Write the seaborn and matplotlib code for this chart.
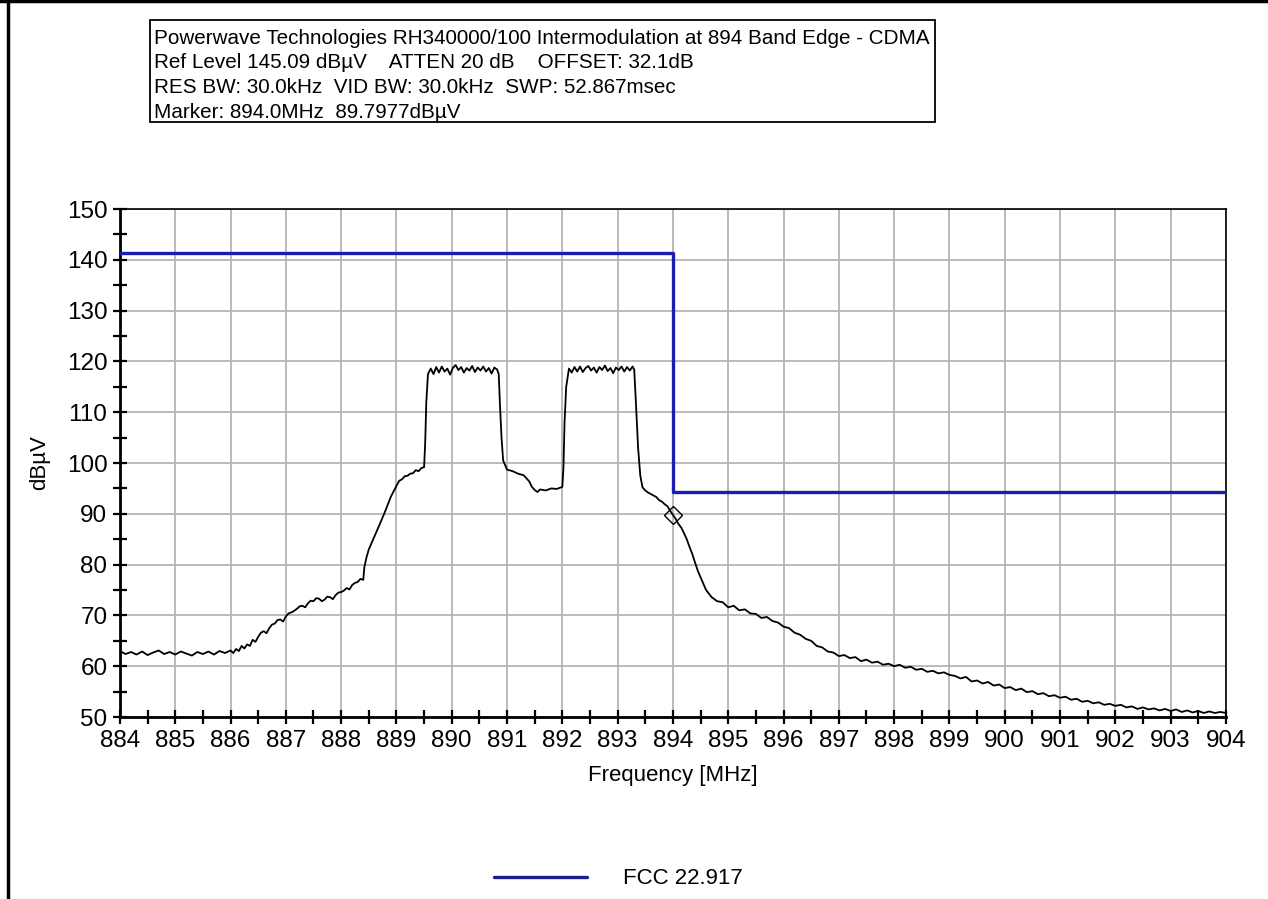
import matplotlib
matplotlib.use("Agg")
import matplotlib.pyplot as plt
import seaborn as sns
import pandas as pd
from matplotlib.lines import Line2D
from matplotlib.patches import Rectangle

# header text
header_lines = [
    "Powerwave Technologies RH340000/100 Intermodulation at 894 Band Edge - CDMA",
    "Ref Level 145.09 dB\u00b5V    ATTEN 20 dB    OFFSET: 32.1dB",
    "RES BW: 30.0kHz  VID BW: 30.0kHz  SWP: 52.867msec",
    "Marker: 894.0MHz  89.7977dB\u00b5V",
]

trace_freq = [
    884.0, 884.1, 884.2, 884.3, 884.4, 884.5, 884.6, 884.7, 884.8, 884.9,
    885.0, 885.1, 885.2, 885.3, 885.4, 885.5, 885.6, 885.7, 885.8, 885.9,
    886.0, 886.05, 886.1, 886.15, 886.2, 886.25, 886.3, 886.35, 886.4, 886.45,
    886.5, 886.55, 886.6, 886.65, 886.7, 886.75, 886.8, 886.85, 886.9, 886.95,
    887.0, 887.05, 887.1, 887.15, 887.2, 887.25, 887.3, 887.35, 887.4, 887.45,
    887.5, 887.55, 887.6, 887.65, 887.7, 887.75, 887.8, 887.85, 887.9, 887.95,
    888.0, 888.05, 888.1, 888.15, 888.2, 888.25, 888.3, 888.35, 888.4, 888.42,
    888.46, 888.5, 888.6, 888.7, 888.8, 888.9, 889.0, 889.05, 889.1, 889.15,
    889.2, 889.25, 889.3, 889.35, 889.4, 889.45, 889.5, 889.52, 889.54, 889.57,
    889.62, 889.67, 889.72, 889.77, 889.82, 889.87, 889.92, 889.97, 890.02, 890.07,
    890.12, 890.17, 890.22, 890.27, 890.32, 890.37, 890.42, 890.47, 890.52, 890.57,
    890.62, 890.67, 890.72, 890.77, 890.82, 890.85, 890.87, 890.9, 890.93, 891.0,
    891.1, 891.2, 891.3, 891.35, 891.4, 891.45, 891.5, 891.55, 891.6, 891.7,
    891.8, 891.9, 892.0, 892.02, 892.04, 892.07, 892.12, 892.17, 892.22, 892.27,
    892.32, 892.37, 892.42, 892.47, 892.52, 892.57, 892.62, 892.67, 892.72, 892.77,
    892.82, 892.87, 892.92, 892.97, 893.02, 893.07, 893.12, 893.17, 893.22, 893.27,
    893.3, 893.33, 893.37, 893.41, 893.45, 893.5, 893.55, 893.6, 893.65, 893.7,
    893.75, 893.8, 893.85, 893.9, 893.95, 894.0, 894.05, 894.1, 894.15, 894.2,
    894.25, 894.3, 894.35, 894.4, 894.45, 894.5, 894.6, 894.7, 894.8, 894.9,
    895.0, 895.1, 895.2, 895.3, 895.4, 895.5, 895.6, 895.7, 895.8, 895.9,
    896.0, 896.1, 896.2, 896.3, 896.4, 896.5, 896.6, 896.7, 896.8, 896.9,
    897.0, 897.1, 897.2, 897.3, 897.4, 897.5, 897.6, 897.7, 897.8, 897.9,
    898.0, 898.1, 898.2, 898.3, 898.4, 898.5, 898.6, 898.7, 898.8, 898.9,
    899.0, 899.1, 899.2, 899.3, 899.4, 899.5, 899.6, 899.7, 899.8, 899.9,
    900.0, 900.1, 900.2, 900.3, 900.4, 900.5, 900.6, 900.7, 900.8, 900.9,
    901.0, 901.1, 901.2, 901.3, 901.4, 901.5, 901.6, 901.7, 901.8, 901.9,
    902.0, 902.1, 902.2, 902.3, 902.4, 902.5, 902.6, 902.7, 902.8, 902.9,
    903.0, 903.1, 903.2, 903.3, 903.4, 903.5, 903.6, 903.7, 903.8, 903.9,
    904.0,
]
trace_level = [
    63.0, 62.4, 62.8, 62.3, 62.9, 62.2, 62.7, 63.1, 62.4, 62.8,
    62.3, 62.9, 62.5, 62.1, 62.8, 62.4, 62.9, 62.3, 63.0, 62.6,
    63.1, 62.6, 63.4, 63.0, 64.0, 63.5, 64.3, 64.0, 65.2, 64.8,
    65.8, 66.6, 66.9, 66.5, 67.5, 68.2, 68.4, 69.1, 69.2, 68.8,
    69.8, 70.4, 70.6, 70.9, 71.3, 71.8, 71.9, 71.6, 72.4, 72.9,
    72.8, 73.4, 73.3, 72.8, 73.1, 73.7, 73.6, 73.2, 74.0, 74.5,
    74.6, 74.9, 75.4, 75.1, 76.0, 76.4, 76.6, 77.2, 77.0, 79.5,
    81.5, 83.0, 85.5, 88.0, 90.6, 93.4, 95.5, 96.5, 96.8, 97.4,
    97.5, 97.9, 98.0, 98.6, 98.4, 99.0, 99.2, 104.0, 112.0, 117.5,
    118.6, 117.5, 118.9, 117.8, 119.0, 118.0, 118.6, 117.4, 118.7, 119.3,
    118.3, 118.9, 117.8, 118.7, 118.2, 119.1, 117.9, 118.8, 118.2, 119.0,
    118.0, 118.7, 117.6, 118.8, 118.4, 117.5, 112.0, 105.0, 100.5, 98.7,
    98.4, 97.9, 97.6, 97.0, 96.4, 95.3, 94.7, 94.3, 94.8, 94.6,
    95.0, 94.9, 95.3, 99.0, 108.0, 115.0, 118.6, 117.8, 118.9, 118.0,
    119.0, 117.9, 118.7, 119.1, 118.2, 118.8, 117.8, 118.9, 118.3, 119.2,
    118.1, 118.7, 117.7, 118.8, 118.3, 119.0, 118.0, 118.9, 118.2, 119.0,
    118.4, 112.0, 103.0, 97.5, 95.2, 94.6, 94.2, 93.9, 93.6, 93.3,
    92.7, 92.4, 91.9, 91.5, 90.6, 89.8, 89.0, 88.0, 87.3, 86.2,
    85.0, 83.5, 82.1, 80.4, 78.8, 77.5, 75.0, 73.6, 72.8, 72.6,
    71.6, 71.9, 71.0, 71.2, 70.4, 70.3, 69.5, 69.7, 68.9, 68.6,
    67.8, 67.5, 66.6, 66.2, 65.4, 65.0, 64.0, 63.7, 62.9, 62.7,
    62.0, 62.2, 61.6, 61.8, 61.0, 61.3, 60.7, 60.9, 60.3, 60.5,
    60.0, 60.3, 59.7, 59.9, 59.3, 59.5, 58.9, 59.1, 58.6, 58.8,
    58.3, 58.1, 57.6, 57.9, 57.0, 57.2, 56.6, 56.9, 56.2, 56.4,
    55.7, 55.9, 55.3, 55.6, 54.9, 55.1, 54.5, 54.7, 54.1, 54.3,
    53.8, 54.0, 53.4, 53.6, 53.0, 53.2, 52.7, 52.9, 52.4, 52.6,
    52.2, 52.4, 51.9, 52.1, 51.6, 51.9, 51.5, 51.7, 51.3, 51.6,
    51.2, 51.5, 51.0, 51.3, 50.9, 51.2, 50.8, 51.1, 50.8, 51.0,
    50.8,
]
assert len(trace_freq) == len(trace_level)

# FCC 22.917 limit (step)
limit_freq = [884.0, 894.0, 904.0]
limit_level = [141.4, 94.3, 94.3]
limit_label = "FCC 22.917"

marker_freq = [894.0]
marker_level = [89.8]

x_ticks = list(range(884, 905))
y_ticks = list(range(50, 151, 10))

sns.set_style("white")
plt.rcParams["font.family"] = ["Liberation Sans", "DejaVu Sans"]
plt.rcParams["text.color"] = "black"
plt.rcParams["axes.labelcolor"] = "black"

fig = plt.figure(figsize=(12.68, 8.99), dpi=100)
ax = fig.add_axes([0.0946, 0.2024, 0.8722, 0.5651])

trace_df = pd.DataFrame({"freq": trace_freq, "level": trace_level})
limit_df = pd.DataFrame({"freq": limit_freq, "level": limit_level})

sns.lineplot(data=trace_df, x="freq", y="level", ax=ax, color="black",
             linewidth=1.3, estimator=None, sort=False, zorder=3)
sns.lineplot(data=limit_df, x="freq", y="level", ax=ax, color="#1c1cb0",
             linewidth=2.4, estimator=None, sort=False, drawstyle="steps-post",
             zorder=4)
ax.plot(marker_freq, marker_level, marker="D", markersize=9,
        markerfacecolor="none", markeredgecolor="black", markeredgewidth=1.0,
        linestyle="none", zorder=5)

ax.set_xlim(884, 904)
ax.set_ylim(50, 150)
ax.set_xticks(x_ticks)
ax.set_yticks(y_ticks)
ax.set_xticks([x + 0.5 for x in x_ticks[:-1]], minor=True)
ax.set_yticks([y + 5 for y in y_ticks[:-1]], minor=True)
ax.grid(True, which="major", color="#b4b4b4", linewidth=1.3)
ax.tick_params(which="both", bottom=True, left=True, top=False, right=False,
               direction="inout", length=10, width=1.6, colors="black",
               labelsize=17.5, pad=4)

for side in ["left", "bottom"]:
    ax.spines[side].set_linewidth(2.0)
for side in ["top", "right"]:
    ax.spines[side].set_linewidth(1.2)
for sp in ax.spines.values():
    sp.set_color("black")

ax.set_xlabel("Frequency [MHz]", fontsize=16, labelpad=10)
ax.set_ylabel("dB\u00b5V", fontsize=16, labelpad=12)

# header box
fig.add_artist(Rectangle((150 / 1268, 1 - 122 / 899), 785 / 1268, 102 / 899,
                         transform=fig.transFigure, fill=False,
                         edgecolor="black", linewidth=1.3))
for i, line in enumerate(header_lines):
    fig.text(154 / 1268, 1 - (38 + i * 24.7) / 899, line, fontsize=14.9,
             va="center", ha="left")

# outer frame (left and top edges)
fig.add_artist(Line2D([8 / 1268, 8 / 1268], [0, 1], transform=fig.transFigure,
                      color="black", linewidth=2.5))
fig.add_artist(Line2D([0, 1], [1 - 1 / 899, 1 - 1 / 899],
                      transform=fig.transFigure, color="black", linewidth=2.5))

legend_handle = Line2D([], [], color="#1c1c90", linewidth=2.4)
fig.legend(handles=[legend_handle], labels=[limit_label], loc="center",
           bbox_to_anchor=(618 / 1268, 1 - 879 / 899), frameon=False,
           fontsize=16, handlelength=4.2, handletextpad=1.6)

fig.savefig("out.png", dpi=100)
